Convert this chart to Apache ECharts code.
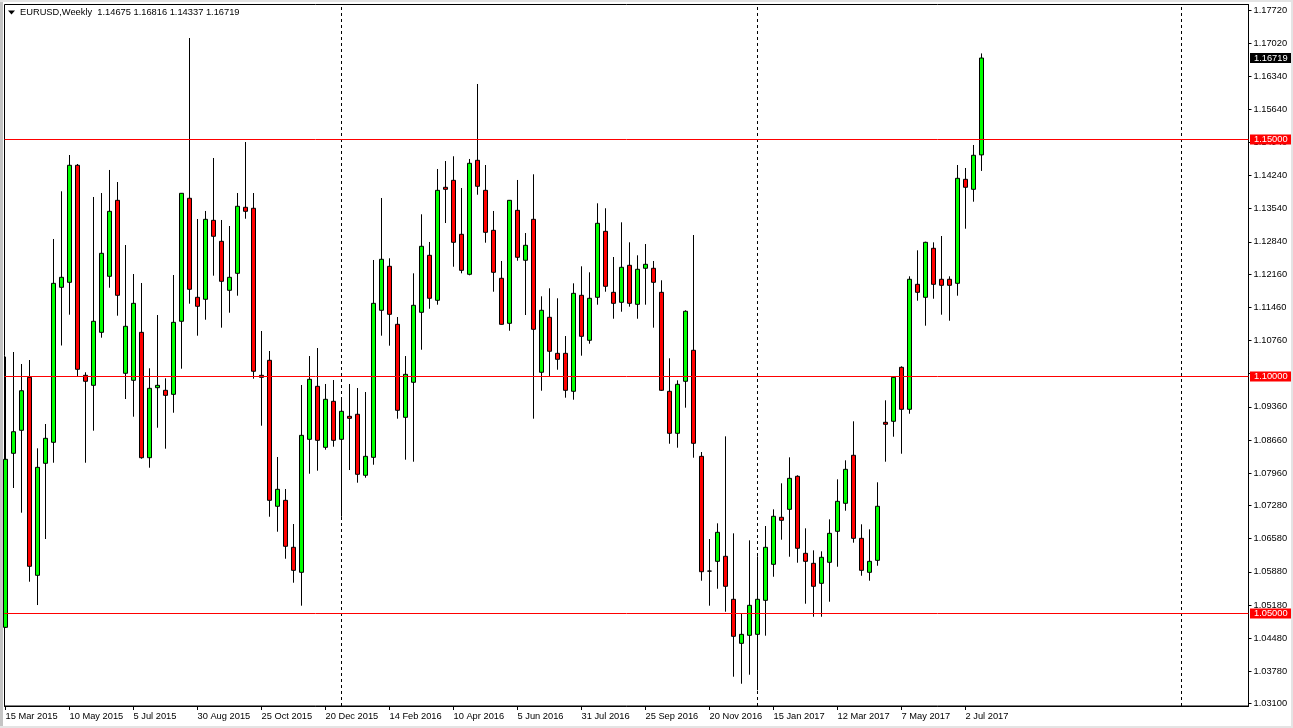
<!DOCTYPE html>
<html>
<head>
<meta charset="utf-8">
<title>EURUSD Weekly</title>
<script src="https://cdn.jsdelivr.net/npm/echarts@6/dist/echarts.min.js"></script>
<style>
    html, body { margin: 0; padding: 0; background: #fff; overflow: hidden; }
    #chart { position: absolute; left: 0; top: 0; width: 1293px; height: 728px; }
    .edge { position: absolute; background: #e4e4e4; }
</style>
</head>
<body>
<div id="chart"></div>
<div class="edge" style="left:0;top:0;width:3px;height:728px;background:#c4c4c4"></div>
<div class="edge" style="left:0;top:0;width:1293px;height:2px"></div>
<div class="edge" style="left:1291px;top:0;width:2px;height:728px"></div>
<div class="edge" style="left:0;top:726px;width:1293px;height:2px"></div>
<script>
// Weekly bars. Index 0 is the week of 15 Mar 2015
const opens = [
    1.04709, 1.08380, 1.08865, 1.09983, 1.05806, 1.08169, 1.08612, 1.11882, 1.11987, 1.14456,
    1.10025, 1.09814, 1.10932, 1.12114, 1.13717, 1.10068, 1.09920, 1.10932, 1.08287, 1.09764,
    1.09709, 1.09624, 1.11165, 1.13760, 1.11671, 1.11629, 1.13295, 1.12852, 1.11819, 1.12177,
    1.13570, 1.13549, 1.10025, 1.10342, 1.07262, 1.07388, 1.06397, 1.05869, 1.08675, 1.09793,
    1.08506, 1.09477, 1.08675, 1.09160, 1.09203, 1.07916, 1.08295, 1.11397, 1.12325, 1.11101,
    1.09139, 1.09878, 1.11354, 1.12557, 1.11608, 1.13992, 1.14139, 1.13000, 1.12156, 1.14561,
    1.13928, 1.13084, 1.12072, 1.11122, 1.13506, 1.12452, 1.13316, 1.10089, 1.11249, 1.10489,
    1.10489, 1.09688, 1.11713, 1.10764, 1.11671, 1.13063, 1.11776, 1.11565, 1.12346, 1.11523,
    1.12283, 1.12283, 1.11776, 1.09688, 1.08802, 1.09899, 1.10553, 1.08316, 1.05895, 1.06101,
    1.06207, 1.05300, 1.04371, 1.04540, 1.04561, 1.05278, 1.06038, 1.07030, 1.07198, 1.07895,
    1.06270, 1.06059, 1.05637, 1.06080, 1.06734, 1.07325, 1.08338, 1.06586, 1.05869, 1.06122,
    1.09034, 1.09055, 1.10194, 1.09308, 1.11945, 1.11671, 1.12705, 1.12051, 1.12051, 1.11966,
    1.14160, 1.13949, 1.14675
];
const closes = [
    1.08253, 1.08835, 1.09700, 1.05996, 1.08084, 1.08696, 1.11966, 1.12093, 1.14456, 1.10152,
    1.09899, 1.11165, 1.12599, 1.13485, 1.11713, 1.11059, 1.11544, 1.08287, 1.09751, 1.09814,
    1.09603, 1.11143, 1.13865, 1.11840, 1.11481, 1.13316, 1.12958, 1.12008, 1.12093, 1.13591,
    1.13485, 1.10110, 1.09983, 1.07388, 1.07620, 1.06418, 1.05911, 1.08759, 1.09941, 1.08654,
    1.09519, 1.08654, 1.09266, 1.09118, 1.07937, 1.08316, 1.11544, 1.12473, 1.11312, 1.09287,
    1.10046, 1.11502, 1.12747, 1.11650, 1.13928, 1.13949, 1.12831, 1.12240, 1.14498, 1.14013,
    1.13042, 1.12198, 1.11101, 1.13717, 1.12515, 1.12768, 1.10996, 1.11397, 1.10532, 1.10363,
    1.09709, 1.11755, 1.10848, 1.11650, 1.13232, 1.11903, 1.11544, 1.12304, 1.11544, 1.12262,
    1.12367, 1.11987, 1.09709, 1.08802, 1.09835, 1.11376, 1.08591, 1.05882, 1.05895, 1.06713,
    1.05574, 1.04519, 1.04561, 1.05173, 1.05300, 1.06397, 1.07051, 1.06966, 1.07852, 1.06376,
    1.06101, 1.05574, 1.06186, 1.06692, 1.07367, 1.08042, 1.06586, 1.05911, 1.06101, 1.07262,
    1.08992, 1.09983, 1.09308, 1.12051, 1.11776, 1.12831, 1.11945, 1.11924, 1.11924, 1.14181,
    1.13992, 1.14667, 1.16719
];
const lows = [
    1.04694, 1.07648, 1.07127, 1.05671, 1.05179, 1.06572, 1.08181, 1.10654, 1.11304, 1.10011,
    1.08181, 1.08857, 1.10819, 1.11873, 1.11283, 1.09525, 1.09152, 1.08266, 1.08076, 1.08920,
    1.08477, 1.09236, 1.10165, 1.11536, 1.10861, 1.11198, 1.12127, 1.11030, 1.11346, 1.11705,
    1.13329, 1.09954, 1.08962, 1.07042, 1.06726, 1.06156, 1.05650, 1.05165, 1.07949, 1.08013,
    1.08456, 1.08519, 1.07042, 1.08027, 1.07760, 1.07865, 1.08139, 1.10861, 1.10650, 1.09110,
    1.08245, 1.08203, 1.10565, 1.11430, 1.11515, 1.13238, 1.12316, 1.12177, 1.12135, 1.13835,
    1.12823, 1.11789, 1.11093, 1.10966, 1.12443, 1.11297, 1.09110, 1.09700, 1.10011, 1.10143,
    1.09553, 1.09511, 1.10439, 1.10692, 1.11515, 1.11789, 1.11219, 1.11367, 1.11473, 1.11219,
    1.11515, 1.11030, 1.09694, 1.08582, 1.08498, 1.09342, 1.08287, 1.05692, 1.05165, 1.05523,
    1.05038, 1.03667, 1.03519, 1.03709, 1.03380, 1.04532, 1.05776, 1.06557, 1.06198, 1.06072,
    1.05207, 1.04932, 1.04932, 1.05249, 1.05987, 1.07169, 1.06494, 1.05797, 1.05692, 1.06008,
    1.08203, 1.08730, 1.08371, 1.09215, 1.11599, 1.11072, 1.11641, 1.11304, 1.11177, 1.11705,
    1.13118, 1.13688, 1.14337
];
const highs = [
    1.10418, 1.10517, 1.10264, 1.10348, 1.08485, 1.08998, 1.12901, 1.13907, 1.14673, 1.14483,
    1.10089, 1.13787, 1.13871, 1.14357, 1.14103, 1.12774, 1.12162, 1.11973, 1.10173, 1.11297,
    1.09962, 1.12141, 1.13871, 1.17141, 1.13323, 1.13492, 1.14610, 1.13302, 1.13175, 1.13871,
    1.14947, 1.13871, 1.10960, 1.10538, 1.08302, 1.07627, 1.06888, 1.09821, 1.10432, 1.10601,
    1.09842, 1.09926, 1.09504, 1.09842, 1.09757, 1.09673, 1.12458, 1.13766, 1.12494, 1.11255,
    1.10432, 1.12177, 1.13422, 1.12838, 1.14378, 1.14546, 1.14646, 1.13977, 1.14589, 1.16171,
    1.14462, 1.13492, 1.12437, 1.13724, 1.14146, 1.13027, 1.14266, 1.11692, 1.11861, 1.11650,
    1.10854, 1.11966, 1.12325, 1.12198, 1.13654, 1.13549, 1.12521, 1.13253, 1.12831, 1.12557,
    1.12795, 1.12437, 1.12030, 1.10384, 1.09920, 1.11397, 1.12985, 1.08407, 1.06572, 1.06903,
    1.08738, 1.06692, 1.05004, 1.06544, 1.06207, 1.06846, 1.07198, 1.07747, 1.08295, 1.07916,
    1.06797, 1.06333, 1.06312, 1.06987, 1.07831, 1.08232, 1.09055, 1.06882, 1.06776, 1.07768,
    1.09498, 1.09989, 1.10215, 1.12114, 1.12662, 1.12844, 1.12831, 1.12964, 1.12114, 1.14462,
    1.14399, 1.14884, 1.16816
];

// Axis labels. A date label sits on every 8th bar
const dateIndexes = [0, 8, 16, 24, 32, 40, 48, 56, 64, 72, 80, 88, 96, 104, 112, 120];
const dateLabels = [
    "15 Mar 2015", "10 May 2015", "5 Jul 2015", "30 Aug 2015", "25 Oct 2015", "20 Dec 2015",
    "14 Feb 2016", "10 Apr 2016", "5 Jun 2016", "31 Jul 2016", "25 Sep 2016", "20 Nov 2016",
    "15 Jan 2017", "12 Mar 2017", "7 May 2017", "2 Jul 2017"
];
const priceTicks = [
    1.03100, 1.03780, 1.04480, 1.05180, 1.05880, 1.06580, 1.07280, 1.07960, 1.08660, 1.09360,
    1.10060, 1.10760, 1.11460, 1.12160, 1.12840, 1.13540, 1.14240, 1.14940, 1.15640, 1.16340,
    1.17020, 1.17720
];
// 1.10060 is completely covered by the 1.10000 tag in the picture
const priceLabels = priceTicks.filter(v => v !== 1.10060);

const levels = [1.05, 1.10, 1.15];
const lastPrice = 1.16719;
const yearBreaks = [42, 94, 147];
const headerText = "EURUSD,Weekly  1.14675 1.16816 1.14337 1.16719";

const fontName = "Liberation Sans";
const fontSize = 9.3;

const bars = opens.map((open, i) => [i, open, closes[i], lows[i], highs[i]]);

function priceTag(value, background, lineStyle) {
    return {
        yAxis: value,
        lineStyle: lineStyle,
        label: { backgroundColor: background }
    };
}

const chart = echarts.init(document.getElementById("chart"), null, { renderer: "canvas" });

const option = {
    animation: false,
    backgroundColor: "#fff",
    grid: {
        show: true,
        left: 4.5,
        top: 4.5,
        width: 1244,
        height: 701.5,
        borderColor: "#000",
        borderWidth: 1,
        backgroundColor: "#fff"
    },
    xAxis: {
        type: "value",
        min: -0.125,
        max: 155.375,
        splitLine: { show: false },
        axisLine: { show: true, onZero: false, lineStyle: { color: "#000", width: 1 } },
        axisTick: { show: true, length: 4, customValues: dateIndexes, lineStyle: { color: "#000" } },
        axisLabel: {
            customValues: dateIndexes,
            formatter: function (value) {
                return dateLabels[dateIndexes.indexOf(value)] || "";
            },
            align: "left",
            margin: 6,
            color: "#000",
            fontFamily: fontName,
            fontSize: fontSize
        }
    },
    yAxis: {
        type: "value",
        position: "right",
        min: 1.03049,
        max: 1.17848,
        splitLine: { show: false },
        axisLine: { show: true, onZero: false, lineStyle: { color: "#000", width: 1 } },
        axisTick: { show: true, length: 3, customValues: priceTicks, lineStyle: { color: "#000" } },
        axisLabel: {
            customValues: priceLabels,
            formatter: function (value) {
                return value.toFixed(5);
            },
            margin: 5,
            padding: [2, 0, 0, 0],
            color: "#000",
            fontFamily: fontName,
            fontSize: fontSize
        }
    },
    series: [
        {
            // period separators, they stay behind the candles
            type: "line",
            data: [],
            silent: true,
            z: 1,
            markLine: {
                silent: true,
                z: 1,
                symbol: "none",
                label: { show: false },
                lineStyle: { color: "#000", type: [3, 3], width: 1 },
                data: yearBreaks.map(x => ({ xAxis: x }))
            }
        },
        {
            type: "candlestick",
            data: bars,
            barWidth: 4,
            silent: true,
            z: 3,
            encode: { x: 0, y: [1, 2, 3, 4] },
            itemStyle: {
                color: "#00ff00",
                color0: "#ff0000",
                borderColor: "#000",
                borderColor0: "#000",
                borderColorDoji: "#000",
                borderWidth: 1
            },
            markLine: {
                silent: true,
                z: 6,
                precision: 5,
                symbol: "none",
                label: {
                    show: true,
                    position: "end",
                    distance: 1.5,
                    formatter: function (params) {
                        return params.value.toFixed(5);
                    },
                    color: "#fff",
                    fontFamily: fontName,
                    fontSize: fontSize,
                    lineHeight: 10,
                    padding: [0, 4, 0, 4]
                },
                lineStyle: { color: "#ff0000", type: "solid", width: 1 },
                data: levels.map(v => priceTag(v, "#ff0000")).concat([
                    // current price only has a tag, no line across the chart
                    priceTag(lastPrice, "#000", { color: "rgba(0,0,0,0)" })
                ])
            }
        }
    ],
    graphic: [
        {
            type: "polygon",
            silent: true,
            shape: { points: [[8, 10.5], [15, 10.5], [11.5, 14.5]] },
            style: { fill: "#000" }
        },
        {
            type: "text",
            silent: true,
            left: 20,
            top: 8,
            style: {
                text: headerText,
                fill: "#000",
                font: fontSize + "px " + fontName
            }
        }
    ]
};

chart.setOption(option);
</script>
</body>
</html>
